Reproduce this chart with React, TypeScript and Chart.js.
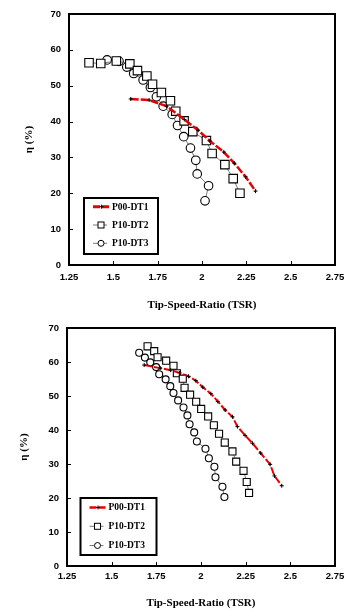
import React, { useEffect, useRef } from 'react';
import { Chart, registerables } from 'chart.js';
Chart.register(...registerables);

// ---------- shared labels / ticks ----------
const seriesNames = ['P00-DT1', 'P10-DT2', 'P10-DT3'];
const xTitle = 'Tip-Speed-Ratio (TSR)';
const yTitle = 'η (%)';
const xTickValues = [1.25, 1.5, 1.75, 2, 2.25, 2.5, 2.75];
const xTickLabels = ['1.25', '1.5', '1.75', '2', '2.25', '2.5', '2.75'];
const yTickValues = [0, 10, 20, 30, 40, 50, 60, 70];
const yTickLabels = ['0', '10', '20', '30', '40', '50', '60', '70'];

// ---------- top chart data ----------
const topP00X = [1.598, 1.702, 1.8, 1.9, 1.978, 2.044, 2.123, 2.182, 2.246, 2.302];
const topP00Y = [46.3, 46.0, 44.3, 40.6, 37.6, 34.6, 31.5, 28.4, 24.6, 20.6];
const topDT2X = [1.363, 1.429, 1.517, 1.593, 1.636, 1.689, 1.721, 1.771, 1.822, 1.852, 1.899, 1.948, 2.025, 2.057, 2.129, 2.176, 2.214];
const topDT2Y = [56.4, 56.2, 56.9, 56.1, 54.2, 52.7, 50.4, 48.1, 45.8, 42.9, 40.2, 37.2, 34.7, 31.1, 28.0, 24.1, 20.0];
const topDT3X = [1.465, 1.532, 1.576, 1.615, 1.668, 1.709, 1.743, 1.781, 1.832, 1.862, 1.897, 1.935, 1.965, 1.973, 2.037, 2.017];
const topDT3Y = [57.2, 56.8, 55.2, 53.4, 51.6, 49.5, 46.9, 44.3, 42.0, 38.9, 35.8, 32.6, 29.2, 25.4, 22.1, 17.9];

// ---------- bottom chart data ----------
const botP00X = [1.682, 1.772, 1.83, 1.88, 1.93, 1.971, 2.01, 2.055, 2.094, 2.135, 2.176, 2.204, 2.247, 2.288, 2.334, 2.387, 2.411, 2.452];
const botP00Y = [59.1, 58.2, 57.6, 56.8, 55.8, 54.5, 52.6, 50.7, 48.4, 45.9, 43.9, 41.0, 38.4, 36.1, 33.2, 29.9, 26.5, 23.6];
const botDT2X = [1.701, 1.738, 1.757, 1.805, 1.846, 1.865, 1.898, 1.908, 1.939, 1.973, 2.001, 2.04, 2.072, 2.101, 2.133, 2.176, 2.197, 2.238, 2.256, 2.269];
const botDT2Y = [64.6, 63.2, 61.4, 60.4, 58.9, 56.7, 55.1, 52.4, 50.4, 48.3, 46.2, 44.0, 41.4, 38.9, 36.3, 33.7, 30.7, 28.0, 24.7, 21.5];
const botDT3X = [1.654, 1.686, 1.716, 1.749, 1.766, 1.802, 1.828, 1.846, 1.872, 1.902, 1.924, 1.936, 1.962, 1.977, 2.025, 2.044, 2.075, 2.081, 2.12, 2.131];
const botDT3Y = [62.7, 61.3, 59.9, 58.5, 56.4, 54.9, 52.9, 50.9, 48.7, 46.6, 44.3, 41.7, 39.3, 36.6, 34.5, 31.7, 29.2, 26.1, 23.3, 20.3];

const zip = (xs: number[], ys: number[]) => xs.map((x, i) => ({ x, y: ys[i] }));

const RED = 'rgb(230,0,0)';
const TICK_FONT = { family: 'Liberation Sans', weight: 'bold' as const, size: 9.5 };
const TITLE_FONT = { family: 'Liberation Serif', weight: 'bold' as const, size: 11 };

const framePlugin = {
  id: 'frameAndLegend',
  afterDraw(chart: any) {
    const { ctx, chartArea: a } = chart;
    const o = chart.options.plugins.frameAndLegend;
    const xs = chart.scales.x;
    const ys = chart.scales.y;
    ctx.save();
    // inward tick marks
    ctx.strokeStyle = '#000';
    ctx.lineWidth = 1;
    ctx.beginPath();
    xs.ticks.forEach((t: any) => {
      const px = Math.round(xs.getPixelForValue(t.value)) + 0.5;
      ctx.moveTo(px, a.bottom);
      ctx.lineTo(px, a.bottom - 4);
    });
    ys.ticks.forEach((t: any) => {
      const py = Math.round(ys.getPixelForValue(t.value)) + 0.5;
      ctx.moveTo(a.left, py);
      ctx.lineTo(a.left + 4, py);
    });
    ctx.stroke();
    // frame
    ctx.lineWidth = 2;
    ctx.strokeRect(a.left, a.top, a.right - a.left, a.bottom - a.top);

    // legend box
    const L = o.legend;
    ctx.fillStyle = '#fff';
    ctx.fillRect(L.left, L.top, L.w, L.h);
    ctx.lineWidth = 2;
    ctx.strokeStyle = '#000';
    ctx.strokeRect(L.left, L.top, L.w, L.h);
    chart.data.datasets.forEach((ds: any, i: number) => {
      const cy = L.top + L.rows[i];
      const x0 = L.left + 9;
      if (i === 0) {
        ctx.strokeStyle = ds.borderColor;
        ctx.lineWidth = ds.borderWidth + 0.5;
        ctx.setLineDash([7, 2]);
        ctx.beginPath();
        ctx.moveTo(x0, cy);
        ctx.lineTo(x0 + 17, cy);
        ctx.stroke();
        ctx.setLineDash([]);
        ctx.strokeStyle = '#000';
        ctx.lineWidth = 1;
        ctx.beginPath();
        ctx.moveTo(x0 + 8.5 - 2, cy);
        ctx.lineTo(x0 + 8.5 + 2, cy);
        ctx.moveTo(x0 + 8.5, cy - 2);
        ctx.lineTo(x0 + 8.5, cy + 2);
        ctx.stroke();
      } else {
        ctx.strokeStyle = ds.borderColor;
        ctx.lineWidth = ds.borderWidth;
        ctx.beginPath();
        ctx.moveTo(x0, cy);
        ctx.lineTo(x0 + 14, cy);
        ctx.stroke();
        ctx.fillStyle = '#fff';
        ctx.strokeStyle = '#000';
        ctx.lineWidth = 1;
        const mx = x0 + 8;
        if (ds.pointStyle === 'rect') {
          ctx.fillRect(mx - 3, cy - 3, 6, 6);
          ctx.strokeRect(mx - 3, cy - 3, 6, 6);
        } else {
          ctx.beginPath();
          ctx.arc(mx, cy, 3, 0, Math.PI * 2);
          ctx.fill();
          ctx.stroke();
        }
      }
      ctx.fillStyle = '#000';
      ctx.font = 'bold 9.5px "Liberation Serif"';
      ctx.textAlign = 'left';
      ctx.textBaseline = 'middle';
      ctx.fillText(ds.label, L.left + 28, cy + 0.5);
    });
    ctx.restore();
  },
};

type Panel = {
  p00: any;
  dt2: any;
  dt3: any;
  padTop: number;
  yWidth: number;
  xHeight: number;
  xTickPad: number;
  xTitlePad: number;
  yTitlePad: number;
  sqR: number;
  ciR: number;
  redW: number;
  legend: { left: number; top: number; w: number; h: number; rows: number[] };
};

const makeConfig = (p: Panel): any => ({
  type: 'scatter',
  data: {
    datasets: [
      {
        label: seriesNames[0],
        data: p.p00,
        showLine: true,
        borderColor: RED,
        borderWidth: p.redW,
        borderDash: [8, 2],
        pointStyle: 'cross',
        pointRadius: 2,
        pointBorderColor: '#000',
        pointBackgroundColor: '#000',
        pointBorderWidth: 1,
      },
      {
        label: seriesNames[1],
        data: p.dt2,
        showLine: true,
        borderColor: '#555',
        borderWidth: 0.8,
        pointStyle: 'rect',
        pointRadius: p.sqR,
        pointBorderColor: '#000',
        pointBackgroundColor: '#fff',
        pointBorderWidth: 1.1,
      },
      {
        label: seriesNames[2],
        data: p.dt3,
        showLine: true,
        borderColor: '#555',
        borderWidth: 0.8,
        pointStyle: 'circle',
        pointRadius: p.ciR,
        pointBorderColor: '#000',
        pointBackgroundColor: '#fff',
        pointBorderWidth: 1.1,
      },
    ],
  },
  options: {
    animation: false,
    responsive: false,
    events: [],
    layout: { padding: { left: 0, right: 25, top: p.padTop, bottom: 0 } },
    plugins: {
      legend: { display: false },
      tooltip: { enabled: false },
      frameAndLegend: { legend: p.legend },
    },
    scales: {
      x: {
        type: 'linear',
        min: 1.25,
        max: 2.75,
        afterBuildTicks: (s: any) => {
          s.ticks = xTickValues.map((v) => ({ value: v }));
        },
        afterFit: (s: any) => {
          s.height = p.xHeight;
        },
        ticks: {
          callback: (_v: any, i: number) => xTickLabels[i],
          font: TICK_FONT,
          color: '#000',
          padding: p.xTickPad,
          maxRotation: 0,
          autoSkip: false,
        },
        grid: { display: false, drawTicks: false },
        border: { display: false },
        title: {
          display: true,
          text: xTitle,
          font: TITLE_FONT,
          color: '#000',
          padding: { top: 0, bottom: p.xTitlePad },
        },
      },
      y: {
        type: 'linear',
        min: 0,
        max: 70,
        afterBuildTicks: (s: any) => {
          s.ticks = yTickValues.map((v) => ({ value: v }));
        },
        afterFit: (s: any) => {
          s.width = p.yWidth;
        },
        ticks: {
          callback: (_v: any, i: number) => yTickLabels[i],
          font: TICK_FONT,
          color: '#000',
          padding: 8,
          autoSkip: false,
        },
        grid: { display: false, drawTicks: false },
        border: { display: false },
        title: {
          display: true,
          text: yTitle,
          font: TITLE_FONT,
          color: '#000',
          padding: { top: p.yTitlePad, bottom: 0 },
        },
      },
    },
  },
  plugins: [framePlugin],
});

const topPanel: Panel = {
  p00: zip(topP00X, topP00Y),
  dt2: zip(topDT2X, topDT2Y),
  dt3: zip(topDT3X, topDT3Y),
  padTop: 14,
  yWidth: 69,
  xHeight: 51,
  xTickPad: 6.6,
  xTitlePad: 4.4,
  yTitlePad: 22.4,
  sqR: 6,
  ciR: 4.3,
  redW: 2.5,
  legend: { left: 84, top: 198, w: 74, h: 56, rows: [8.7, 27, 45.3] },
};

const botPanel: Panel = {
  p00: zip(botP00X, botP00Y),
  dt2: zip(botDT2X, botDT2Y),
  dt3: zip(botDT3X, botDT3Y),
  padTop: 28,
  yWidth: 67,
  xHeight: 50,
  xTickPad: 5,
  xTitlePad: 6.1,
  yTitlePad: 17.4,
  sqR: 5,
  ciR: 3.5,
  redW: 2,
  legend: { left: 80.5, top: 198, w: 76, h: 57, rows: [9.5, 28.3, 47.5] },
};

function ChartPanel({ panel, top }: { panel: Panel; top: number }) {
  const ref = useRef<HTMLCanvasElement>(null);
  useEffect(() => {
    const chart = new Chart(ref.current as HTMLCanvasElement, makeConfig(panel));
    return () => chart.destroy();
  }, []);
  return (
    <div style={{ position: 'absolute', left: 0, top, width: 360, height: 316 }}>
      <canvas ref={ref} width={360} height={316} style={{ display: 'block' }} />
    </div>
  );
}

export default function App() {
  return (
    <div style={{ position: 'absolute', left: 0, top: 0, width: 360, height: 616, background: '#fff' }}>
      <ChartPanel panel={topPanel} top={0} />
      <ChartPanel panel={botPanel} top={300} />
    </div>
  );
}
